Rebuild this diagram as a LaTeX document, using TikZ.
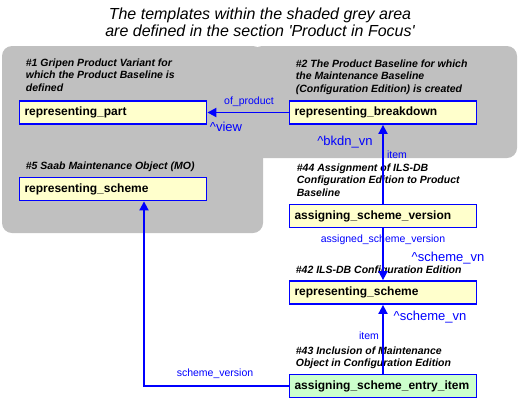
\documentclass[tikz,border=0pt]{standalone}
\usepackage{fontspec}
\setmainfont{Liberation Sans}[Ligatures=TeXOff]
\usetikzlibrary{arrows.meta}
\definecolor{area_gray}{RGB}{192,192,192}
\definecolor{box_yellow}{RGB}{255,255,204}
\definecolor{box_green}{RGB}{204,255,204}
\definecolor{edge_blue}{RGB}{0,0,255}
\newcommand\capfont{\fontsize{10.5}{12.5}\selectfont\bfseries\itshape}
\begin{document}
\begin{tikzpicture}[x=1pt,y=-1pt,->,line width=1.8pt,>={Triangle[length=9pt,width=9pt]}]
    \tikzstyle{box}=[draw=edge_blue, line width=1.8pt, fill=box_yellow, minimum height=23pt, text width=177pt, inner xsep=5pt, align=left, font=\fontsize{12}{14}\selectfont\bfseries, text=black]
    \tikzstyle{entrybox}=[style=box, fill=box_green]
    \tikzstyle{tmpl}=[anchor=base west, inner sep=0pt, align=left, font=\capfont, text=black]
    \tikzstyle{lbl}=[inner sep=0pt, text=edge_blue, font=\fontsize{10.5}{12}\selectfont]
    \tikzstyle{role}=[inner sep=0pt, text=edge_blue, font=\fontsize{13}{15}\selectfont]
    \tikzstyle{conn}=[draw=edge_blue, line width=1.8pt]

    \useasboundingbox (0,0) rectangle (518,400);
    \fill[area_gray, rounded corners=10pt] (2,46) rectangle (263,233);
    \fill[area_gray, rounded corners=10pt] (252,46) rectangle (517,158);

    % base anchor of a multi-line node sits on its last line
    \node[anchor=base, align=center, inner sep=0pt, font=\fontsize{16}{17}\selectfont\itshape] (title) at (260,36)
        {The templates within the shaded grey area\\are defined in the section 'Product in Focus'};

    \node[tmpl] (c1)  at (25,91)    {\#1 Gripen Product Variant for\\which the Product Baseline is\\defined};
    \node[tmpl] (c5)  at (25,169)   {\#5 Saab Maintenance Object (MO)};
    \node[tmpl] (c2)  at (295,92)   {\#2 The Product Baseline for which\\the Maintenance Baseline\\(Configuration Edition) is created};
    \node[tmpl] (c44) at (296,196)  {\#44 Assignment of ILS-DB\\Configuration Edition to Product\\Baseline};
    \node[tmpl] (c42) at (295,273)  {\#42 ILS-DB Configuration Edition};
    \node[tmpl] (c43) at (295,366.5){\#43 Inclusion of Maintenance\\Object in Configuration Edition};

    \node[box]      (part) at (113,112.5) {representing\_part};
    \node[box]      (mo)   at (113,189)   {representing\_scheme};
    \node[box]      (bkdn) at (383,112.5) {representing\_breakdown};
    \node[box]      (asv)  at (383,216)   {assigning\_scheme\_version};
    \node[box]      (ce)   at (383,292.5) {representing\_scheme};
    \node[entrybox] (item) at (383,386)   {assigning\_scheme\_entry\_item};

    \node[lbl]  (l_of)    at (249,102) {of\_product};
    \node[role] (r_view)  at (226,127) {\textasciicircum view};
    \node[role] (r_bkdn)  at (345,142) {\textasciicircum bkdn\_vn};
    \node[lbl]  (l_item1) at (397,155) {item};
    \node[lbl]  (l_asv)   at (383,240) {assigned\_scheme\_version};
    \node[role] (r_sv1)   at (448,258) {\textasciicircum scheme\_vn};
    \node[role] (r_sv2)   at (430,317) {\textasciicircum scheme\_vn};
    \node[lbl]  (l_item2) at (369,336) {item};
    \node[lbl]  (l_sv)    at (215,374) {scheme\_version};

    \coordinate (svx) at (144,0);
    \path
     (bkdn) edge[conn] (part)
     (asv)  edge[conn] (bkdn)
     (asv)  edge[conn] (ce)
     (item) edge[conn] (ce)
     ;
    \draw[conn] (item.west) -| (svx |- mo.south);
\end{tikzpicture}
\end{document}
